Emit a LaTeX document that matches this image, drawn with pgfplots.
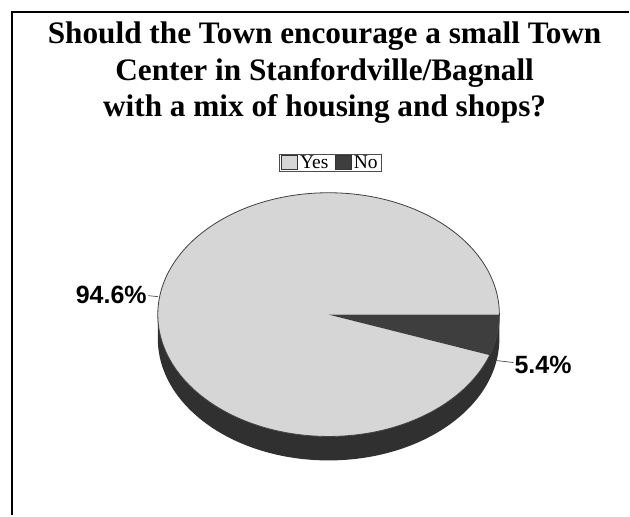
\documentclass[border=0pt]{standalone}
\usepackage{pgfplots}
\usepackage{pgfplotstable}
\pgfplotsset{compat=1.18}
\usepackage{fontspec}
\setmainfont{Liberation Serif}
\newfontfamily\sansfont{Liberation Sans}

\definecolor{yesgray}{RGB}{214,214,214}
\definecolor{nogray}{RGB}{62,62,62}
\definecolor{sidegray}{RGB}{48,48,48}

\pgfplotstableread{
label value
Yes 94.6
No 5.4
}\piedata

% angle of the No slice, taken clockwise from 3 o'clock
\pgfplotstablegetelem{1}{value}\of\piedata
\pgfmathsetmacro\noangle{360*\pgfplotsretval/100}
\pgfmathsetmacro\yesend{360-\noangle}

% pie geometry (axis units = pt)
\def\cx{329}
\def\cy{201}
\def\rx{171}
\def\ry{122}
\def\depth{24}

\newcommand\legfont{\fontsize{19.5}{20}\selectfont}

\begin{document}
\begin{tikzpicture}
\begin{axis}[
    scale only axis,
    width=630pt, height=516pt,
    xmin=0, xmax=630, ymin=0, ymax=516,
    hide axis,
    clip=false,
    legend columns=2,
    legend style={
        at={(axis cs:331,353)}, anchor=center,
        draw=black!70, line width=0.6pt,
        inner xsep=2pt, inner ysep=0pt,
        /tikz/every even column/.append style={column sep=5pt},
        nodes={inner xsep=2pt, inner ysep=1pt},
    },
    legend cell align=left,
    legend image code/.code={
        \draw[#1] (0pt,-6.5pt) rectangle (16pt,7pt);
    },
]
\path (axis cs:0,0) rectangle (axis cs:630,516);

% frame
\draw[line width=1.6pt] (axis cs:12,0) -- (axis cs:12,504) -- (axis cs:630,504);

% title
\begin{scope}[font=\bfseries\fontsize{31.3}{36}\selectfont]
\node[anchor=base] at (axis cs:325,472) {Should the Town encourage a small Town};
\node[anchor=base] at (axis cs:325,435.5) {Center in Stanfordville/Bagnall};
\node[anchor=base] at (axis cs:325,399.5) {with a mix of housing and shops?};
\end{scope}

% legend
\addlegendimage{fill=yesgray, draw=black!80}
\addlegendentry{\legfont Yes}
\addlegendimage{fill=nogray, draw=black!80}
\addlegendentry{\legfont No}

% side of the pie
\fill[sidegray] (axis cs:\cx-\rx,\cy-\depth)
    arc[start angle=180, end angle=360, x radius=\rx pt, y radius=\ry pt]
    -- (axis cs:\cx+\rx,\cy)
    arc[start angle=360, end angle=180, x radius=\rx pt, y radius=\ry pt]
    -- cycle;

% top face: Yes
\fill[yesgray] (axis cs:\cx,\cy) -- (axis cs:\cx+\rx,\cy)
    arc[start angle=0, end angle=\yesend, x radius=\rx pt, y radius=\ry pt]
    -- cycle;
% top face: No
\fill[nogray] (axis cs:\cx,\cy) -- (axis cs:\cx+\rx,\cy)
    arc[start angle=360, end angle=\yesend, x radius=\rx pt, y radius=\ry pt]
    -- cycle;
\draw[black!75, line width=0.8pt] (axis cs:\cx,\cy) ellipse[x radius=\rx pt, y radius=\ry pt];

% data labels
\draw[black!70, line width=0.7pt] (axis cs:158,219) -- (axis cs:148,220);
\node[anchor=east, inner sep=0pt, font=\sansfont\bfseries\fontsize{25}{26}\selectfont]
    at (axis cs:147,221) {94.6\%};
\draw[black!70, line width=0.7pt] (axis cs:497,155) -- (axis cs:514,153);
\node[anchor=west, inner sep=0pt, font=\sansfont\bfseries\fontsize{25}{26}\selectfont]
    at (axis cs:515,151) {5.4\%};
\end{axis}
\end{tikzpicture}
\end{document}
